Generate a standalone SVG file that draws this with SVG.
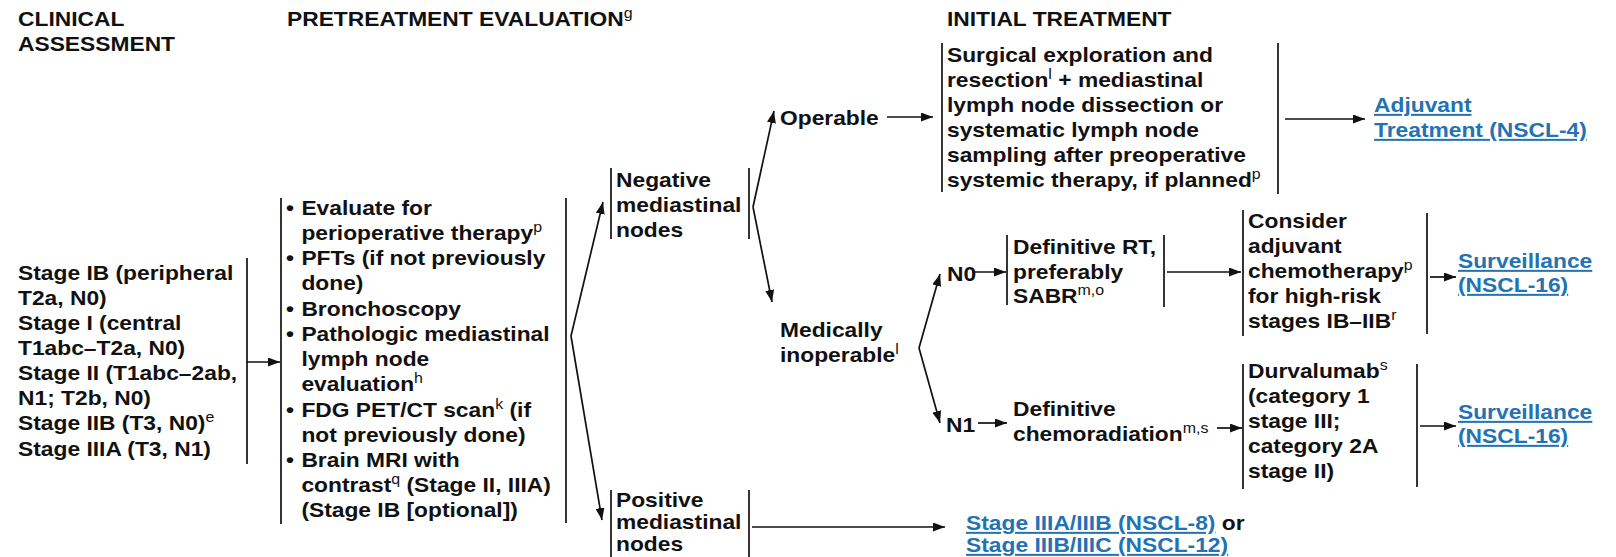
<svg xmlns="http://www.w3.org/2000/svg" width="1616" height="557" viewBox="0 0 1616 557">
<style>
.t{font-family:"Liberation Sans",Arial,sans-serif;font-weight:bold;font-size:20px;fill:#111111}
.s{font-size:14px;font-weight:normal}
.lk{fill:#2272b4;text-decoration:underline}
.ln{stroke:#111111;stroke-width:1.7;fill:none}
.ar{marker-end:url(#ah)}
</style>
<defs>
<marker id="ah" markerUnits="userSpaceOnUse" markerWidth="13" markerHeight="9" refX="12" refY="4.5" orient="auto">
<path d="M0,0 L12,4.5 L0,9 z" fill="#111111"/>
</marker>
</defs>
<rect width="1616" height="557" fill="#ffffff"/>

<g id="headers">
<text class="t" transform="translate(18,0) scale(1.14,1)"><tspan x="0" y="26">CLINICAL</tspan><tspan x="0" y="51">ASSESSMENT</tspan></text>
<text class="t" transform="translate(287,0) scale(1.14,1)"><tspan x="0" y="26">PRETREATMENT EVALUATION</tspan><tspan class="s" dy="-8">g</tspan></text>
<text class="t" transform="translate(947,0) scale(1.14,1)"><tspan x="0" y="26">INITIAL TREATMENT</tspan></text>
</g>

<g id="connectors">
<line class="ln" x1="247" y1="258" x2="247" y2="464"/>
<line class="ln ar" x1="247" y1="362" x2="280" y2="362"/>
<line class="ln" x1="281" y1="198" x2="281" y2="524"/>
<line class="ln" x1="566" y1="198" x2="566" y2="523"/>
<line class="ln ar" x1="571" y1="336" x2="603" y2="202"/>
<line class="ln ar" x1="571" y1="336" x2="602" y2="520"/>
<line class="ln" x1="611" y1="168" x2="611" y2="239"/>
<line class="ln" x1="749" y1="168" x2="749" y2="239"/>
<line class="ln ar" x1="753" y1="207" x2="774" y2="111"/>
<line class="ln ar" x1="753" y1="207" x2="772" y2="302"/>
<line class="ln ar" x1="887" y1="117" x2="933" y2="117"/>
<line class="ln" x1="942" y1="43" x2="942" y2="192"/>
<line class="ln" x1="1278" y1="43" x2="1278" y2="194"/>
<line class="ln ar" x1="1285" y1="119" x2="1365" y2="119"/>
<line class="ln ar" x1="919" y1="348" x2="940" y2="274"/>
<line class="ln ar" x1="919" y1="348" x2="940" y2="423"/>
<line class="ln ar" x1="972" y1="272" x2="1006" y2="272"/>
<line class="ln" x1="1007" y1="235" x2="1007" y2="305"/>
<line class="ln" x1="1164" y1="235" x2="1164" y2="307"/>
<line class="ln ar" x1="1167" y1="272" x2="1241" y2="272"/>
<line class="ln" x1="1243" y1="210" x2="1243" y2="336"/>
<line class="ln" x1="1427" y1="213" x2="1427" y2="334"/>
<line class="ln ar" x1="1430" y1="277" x2="1456" y2="277"/>
<line class="ln ar" x1="978" y1="423" x2="1007" y2="423"/>
<line class="ln ar" x1="1217" y1="428" x2="1242" y2="428"/>
<line class="ln" x1="1243" y1="364" x2="1243" y2="489"/>
<line class="ln" x1="1417" y1="364" x2="1417" y2="487"/>
<line class="ln ar" x1="1420" y1="426" x2="1456" y2="426"/>
<line class="ln" x1="611" y1="490" x2="611" y2="557"/>
<line class="ln" x1="749" y1="490" x2="749" y2="557"/>
<line class="ln ar" x1="752" y1="527" x2="945" y2="527"/>
</g>

<g id="clinical">
<text class="t" transform="translate(18,0) scale(1.14,1)">
<tspan x="0" y="280">Stage IB (peripheral</tspan>
<tspan x="0" y="305">T2a, N0)</tspan>
<tspan x="0" y="330">Stage I (central</tspan>
<tspan x="0" y="355">T1abc–T2a, N0)</tspan>
<tspan x="0" y="380">Stage II (T1abc–2ab,</tspan>
<tspan x="0" y="405">N1; T2b, N0)</tspan>
<tspan x="0" y="430">Stage IIB (T3, N0)</tspan><tspan class="s" dy="-8">e</tspan>
<tspan x="0" y="456">Stage IIIA (T3, N1)</tspan>
</text>
</g>

<g id="pretreatment">
<text class="t" transform="translate(286,0) scale(1.14,1)">
<tspan x="0" y="215">•</tspan><tspan x="13.5" y="215">Evaluate for</tspan>
<tspan x="13.5" y="240">perioperative therapy</tspan><tspan class="s" dy="-8">p</tspan>
<tspan x="0" y="265">•</tspan><tspan x="13.5" y="265">PFTs (if not previously</tspan>
<tspan x="13.5" y="290">done)</tspan>
<tspan x="0" y="316">•</tspan><tspan x="13.5" y="316">Bronchoscopy</tspan>
<tspan x="0" y="341">•</tspan><tspan x="13.5" y="341">Pathologic mediastinal</tspan>
<tspan x="13.5" y="366">lymph node</tspan>
<tspan x="13.5" y="391">evaluation</tspan><tspan class="s" dy="-8">h</tspan>
<tspan x="0" y="417">•</tspan><tspan x="13.5" y="417">FDG PET/CT scan</tspan><tspan class="s" dy="-8">k</tspan><tspan dy="8"> (if</tspan>
<tspan x="13.5" y="442">not previously done)</tspan>
<tspan x="0" y="467">•</tspan><tspan x="13.5" y="467">Brain MRI with</tspan>
<tspan x="13.5" y="492">contrast</tspan><tspan class="s" dy="-8">q</tspan><tspan dy="8"> (Stage II, IIIA)</tspan>
<tspan x="13.5" y="517">(Stage IB [optional])</tspan>
</text>
</g>

<g id="negative">
<text class="t" transform="translate(616,0) scale(1.14,1)"><tspan x="0" y="187">Negative</tspan><tspan x="0" y="212">mediastinal</tspan><tspan x="0" y="237">nodes</tspan></text>
</g>

<g id="positive">
<text class="t" transform="translate(616,0) scale(1.14,1)"><tspan x="0" y="507">Positive</tspan><tspan x="0" y="529">mediastinal</tspan><tspan x="0" y="551">nodes</tspan></text>
</g>

<g id="operable">
<text class="t" transform="translate(780,0) scale(1.14,1)"><tspan x="0" y="125">Operable</tspan></text>
</g>

<g id="surgical">
<text class="t" transform="translate(947,0) scale(1.14,1)">
<tspan x="0" y="62">Surgical exploration and</tspan>
<tspan x="0" y="87">resection</tspan><tspan class="s" dy="-8">l</tspan><tspan dy="8"> + mediastinal</tspan>
<tspan x="0" y="112">lymph node dissection or</tspan>
<tspan x="0" y="137">systematic lymph node</tspan>
<tspan x="0" y="162">sampling after preoperative</tspan>
<tspan x="0" y="187">systemic therapy, if planned</tspan><tspan class="s" dy="-8">p</tspan>
</text>
</g>

<g id="adjuvant">
<text class="t lk" transform="translate(1374,0) scale(1.14,1)"><tspan x="0" y="112">Adjuvant</tspan><tspan x="0" y="137">Treatment (NSCL-4)</tspan></text>
</g>

<g id="medically">
<text class="t" transform="translate(780,0) scale(1.14,1)"><tspan x="0" y="337">Medically</tspan><tspan x="0" y="362">inoperable</tspan><tspan class="s" dy="-8">l</tspan></text>
</g>

<g id="n0">
<text class="t" transform="translate(947,0) scale(1.14,1)"><tspan x="0" y="281">N0</tspan></text>
</g>

<g id="n1">
<text class="t" transform="translate(946,0) scale(1.14,1)"><tspan x="0" y="432">N1</tspan></text>
</g>

<g id="definitive-rt">
<text class="t" transform="translate(1013,0) scale(1.14,1)"><tspan x="0" y="254">Definitive RT,</tspan><tspan x="0" y="279">preferably</tspan><tspan x="0" y="303">SABR</tspan><tspan class="s" dy="-8">m,o</tspan></text>
</g>

<g id="consider">
<text class="t" transform="translate(1248,0) scale(1.14,1)">
<tspan x="0" y="228">Consider</tspan>
<tspan x="0" y="253">adjuvant</tspan>
<tspan x="0" y="278">chemotherapy</tspan><tspan class="s" dy="-8">p</tspan>
<tspan x="0" y="303">for high-risk</tspan>
<tspan x="0" y="328">stages IB–IIB</tspan><tspan class="s" dy="-8">r</tspan>
</text>
</g>

<g id="surveillance1">
<text class="t lk" transform="translate(1458,0) scale(1.14,1)"><tspan x="0" y="268">Surveillance</tspan><tspan x="0" y="292">(NSCL-16)</tspan></text>
</g>

<g id="chemoradiation">
<text class="t" transform="translate(1013,0) scale(1.14,1)"><tspan x="0" y="416">Definitive</tspan><tspan x="0" y="441">chemoradiation</tspan><tspan class="s" dy="-8">m,s</tspan></text>
</g>

<g id="durvalumab">
<text class="t" transform="translate(1248,0) scale(1.14,1)">
<tspan x="0" y="378">Durvalumab</tspan><tspan class="s" dy="-8">s</tspan>
<tspan x="0" y="403">(category 1</tspan>
<tspan x="0" y="428">stage III;</tspan>
<tspan x="0" y="453">category 2A</tspan>
<tspan x="0" y="478">stage II)</tspan>
</text>
</g>

<g id="surveillance2">
<text class="t lk" transform="translate(1458,0) scale(1.14,1)"><tspan x="0" y="419">Surveillance</tspan><tspan x="0" y="443">(NSCL-16)</tspan></text>
</g>

<g id="stage-links">
<text class="t" transform="translate(966,0) scale(1.14,1)"><tspan class="lk" x="0" y="530">Stage IIIA/IIIB (NSCL-8)</tspan><tspan> or</tspan></text>
<text class="t lk" transform="translate(966,0) scale(1.14,1)"><tspan x="0" y="552">Stage IIIB/IIIC (NSCL-12)</tspan></text>
</g>
</svg>
